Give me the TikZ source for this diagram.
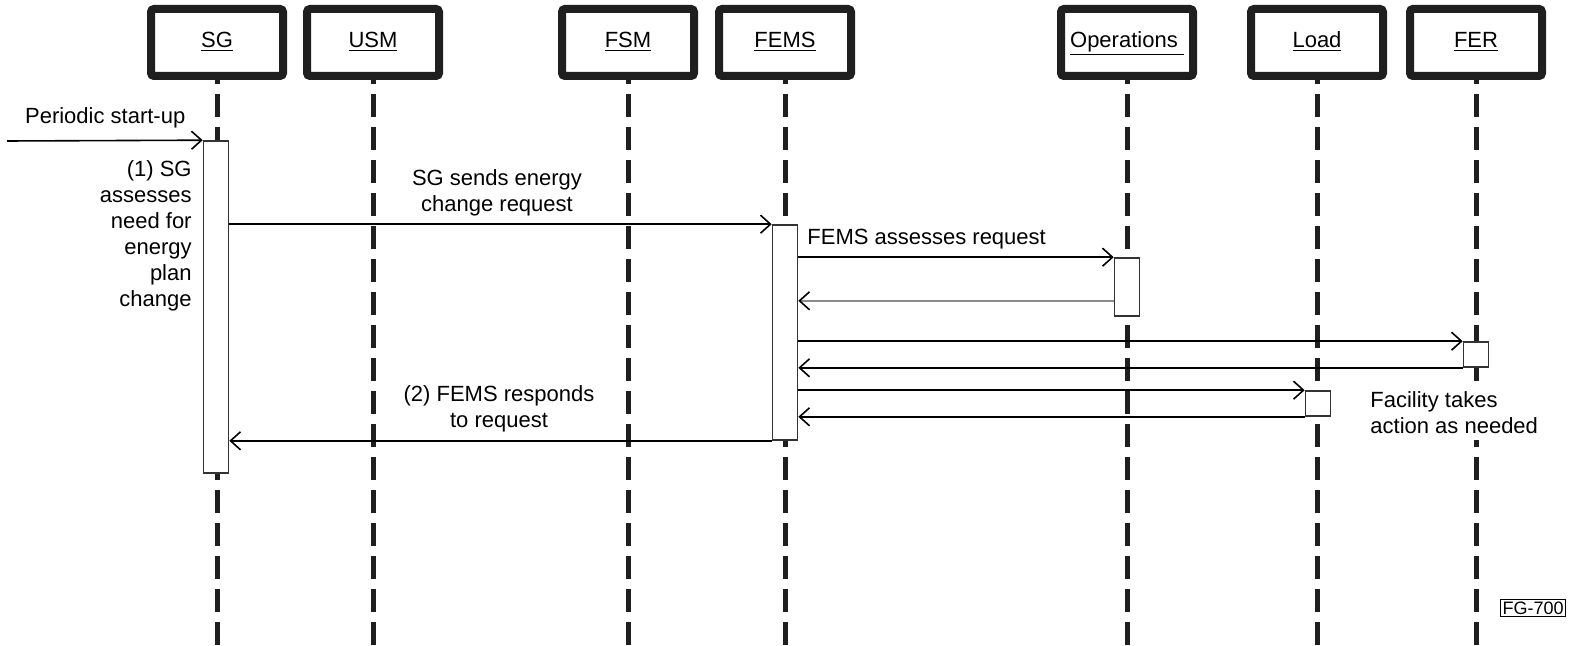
\documentclass[tikz,border=0pt]{standalone}
\usepackage{fontspec}
\setmainfont{Liberation Sans}
\usetikzlibrary{positioning}
\usetikzlibrary{arrows.meta}

\begin{document}
\begin{tikzpicture}[
    x=0.5pt, y=-0.5pt,
    font=\fontsize{11}{13}\selectfont,
    head/.style={rectangle,rounded corners=1.5pt,draw=black!88,line width=4pt,fill=white,minimum width=66pt,minimum height=33.5pt,inner sep=0pt,text height=8pt,text depth=3pt},
    life/.style={draw=black!88,line width=2.5pt,dash pattern=on 11.5pt off 5pt,dash phase=9.5pt},
    bar/.style={rectangle,draw=black!80,line width=0.8pt,fill=white,minimum width=12.5pt,inner sep=0pt},
    arr/.style={line width=0.8pt,-{Straight Barb[length=5pt,width=9pt]}},
    greyarr/.style={line width=0.8pt,draw=black!45,-{Straight Barb[length=5pt,width=9pt,color=black]}},
    lbl/.style={align=center,inner sep=0pt}
    ]
    \useasboundingbox (0,0) rectangle (1569,646);
    \coordinate (bottom) at (0,646);
    \node (sg) [head] at (217,42.5) {\underline{SG}};
    \node (usm) [head] at (373,42.5) {\underline{USM}};
    \node (fsm) [head] at (628,42.5) {\underline{FSM}};
    \node (fems) [head] at (785,42.5) {\underline{FEMS}};
    \node (ops) [head] at (1127,42.5) {\underline{Operations\ }};
    \node (load) [head] at (1317,42.5) {\underline{Load}};
    \node (fer) [head] at (1476,42.5) {\underline{FER}};
    \foreach \n in {sg,usm,fsm,fems,ops,load,fer}
        \draw[life] (\n.south) -- (\n.south |- bottom);
    \node (sgbar) [bar,minimum height=166pt] at (216,307) {};
    \node (femsbar) [bar,minimum height=107.5pt] at (785,332.5) {};
    \node (opsbar) [bar,minimum height=29pt] at (1127,287) {};
    \node (ferbar) [bar,minimum height=12.5pt] at (1476,354.5) {};
    \node (loadbar) [bar,minimum height=12.5pt] at (1318,403.5) {};
    \coordinate (start) at (7,141);
    \coordinate (opsback) at ([yshift=8pt]opsbar.south west);
    \node (startlbl) [lbl,above left=6pt and 8.5pt of sgbar.north west] {Periodic start-up};
    \node (sgnote) [lbl,align=right,anchor=east] at (192,236) {(1) SG\\assesses\\need for\\energy\\plan\\change};
    \node (sendlbl) [lbl] at (497,193) {SG sends energy\\change request};
    \node (asslbl) [lbl,anchor=west] at (807,239) {FEMS assesses request};
    \node (resplbl) [lbl] at (499,409) {(2) FEMS responds\\to request};
    \node (action) [lbl,align=left,anchor=west,fill=white,inner sep=3pt] at (1364,413) {Facility takes\\action as needed};
    \node (fg) [draw,line width=0.5pt,font=\fontsize{9}{10}\selectfont,inner sep=1pt] at (1533,608) {FG-700};
    \draw[arr] (start) -- (sgbar.north west);
    \draw[arr] (sgbar.east |- femsbar.north) -- (femsbar.north west);
    \draw[arr] (femsbar.east |- opsbar.north) -- (opsbar.north west);
    \draw[greyarr] (opsback) -- (femsbar.east |- opsback);
    \draw[arr] (femsbar.east |- ferbar.north) -- (ferbar.north west);
    \draw[arr] (ferbar.south west) -- (femsbar.east |- ferbar.south);
    \draw[arr] (femsbar.east |- loadbar.north) -- (loadbar.north west);
    \draw[arr] (loadbar.south west) -- (femsbar.east |- loadbar.south);
    \draw[arr] (femsbar.south west) -- (sgbar.east |- femsbar.south);
\end{tikzpicture}
\end{document}
